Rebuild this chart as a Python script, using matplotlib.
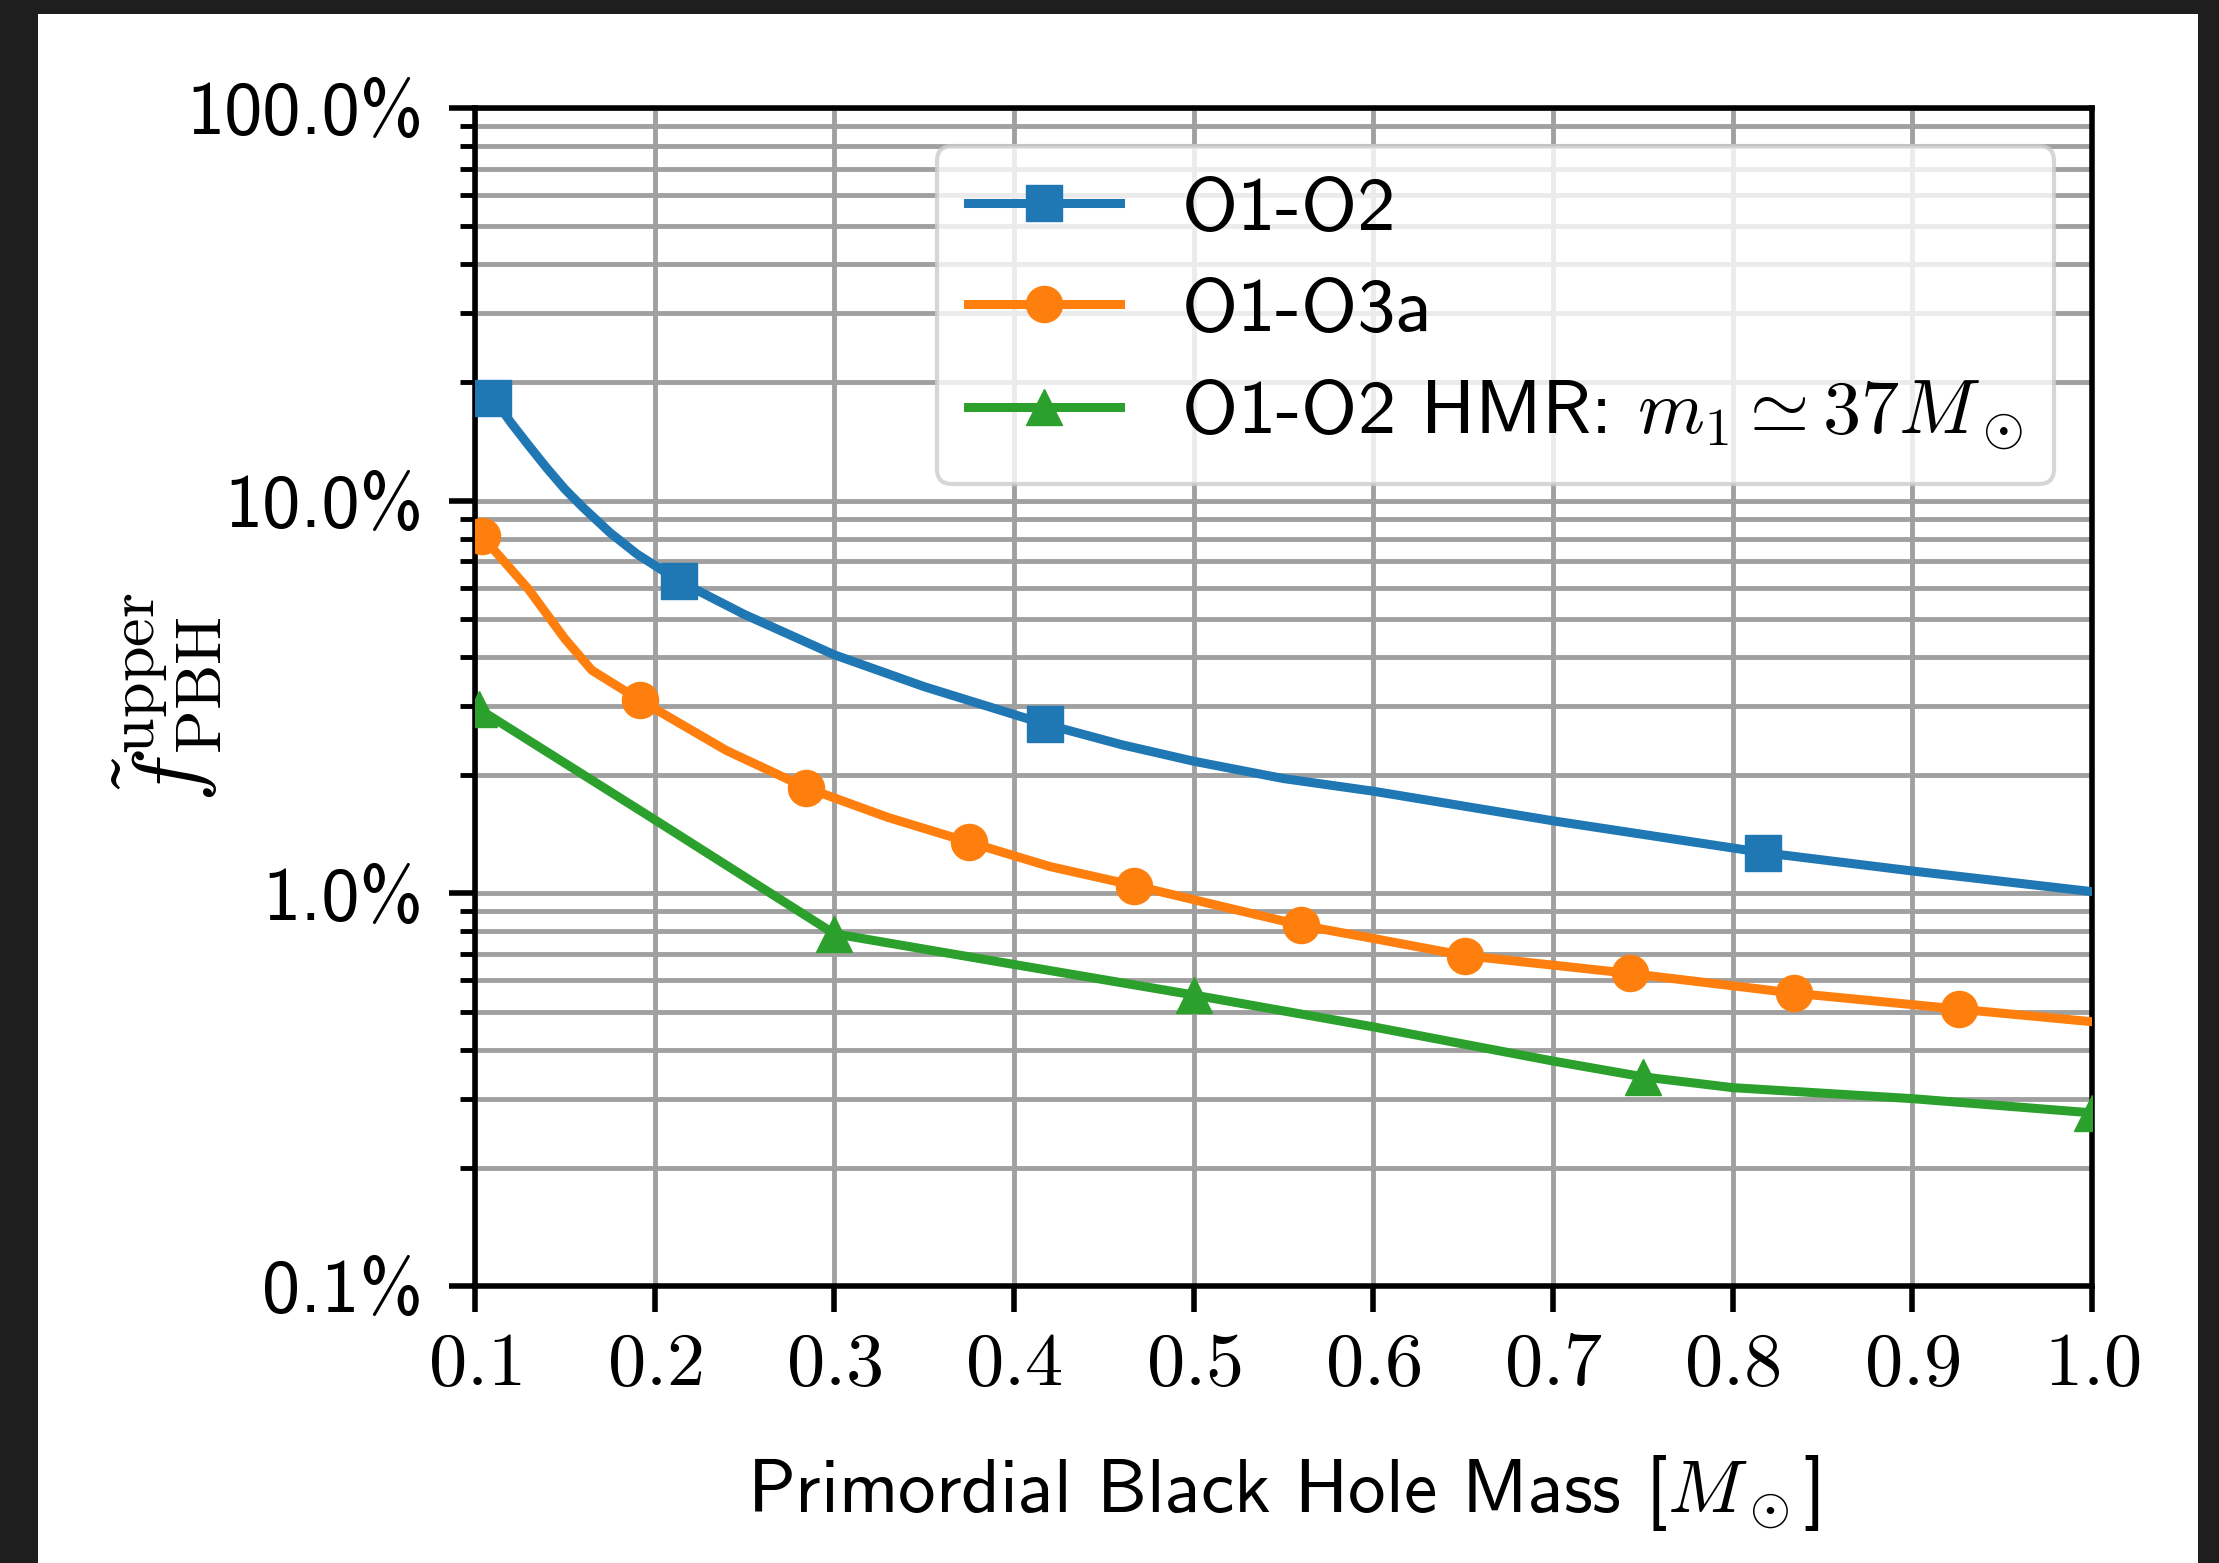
import numpy as np
import matplotlib
matplotlib.use("Agg")
import matplotlib.pyplot as plt
from matplotlib.ticker import FuncFormatter, LogLocator, NullFormatter, MultipleLocator
from matplotlib.patches import Rectangle

# data (mass in solar masses, f in percent)
mass_o1o2 = [0.110, 0.120, 0.130, 0.140, 0.150, 0.160, 0.175, 0.190, 0.2134, 0.25, 0.30, 0.35,
             0.417, 0.46, 0.50, 0.55, 0.60, 0.70, 0.817, 0.90, 1.00]
f_o1o2 = [18.3, 15.8, 13.8, 12.1, 10.7, 9.62, 8.30, 7.32, 6.25, 5.13, 4.05, 3.36,
          2.70, 2.39, 2.17, 1.96, 1.82, 1.53, 1.27, 1.14, 1.01]
marks_o1o2 = [0, 8, 12, 18]

mass_o3a = [0.104, 0.130, 0.150, 0.165, 0.192, 0.240, 0.284, 0.330, 0.375, 0.420, 0.467, 0.514,
            0.560, 0.605, 0.651, 0.743, 0.834, 0.926, 1.00]
f_o3a = [8.11, 5.93, 4.45, 3.70, 3.10, 2.31, 1.86, 1.56, 1.35, 1.17, 1.047, 0.93,
         0.829, 0.76, 0.694, 0.625, 0.557, 0.507, 0.471]
marks_o3a = [0, 4, 6, 8, 10, 12, 14, 15, 16, 17]

mass_hmr = [0.102, 0.200, 0.300, 0.400, 0.500, 0.600, 0.700, 0.750, 0.800, 0.900, 1.00]
f_hmr = [2.95, 1.54, 0.789, 0.659, 0.551, 0.457, 0.374, 0.341, 0.320, 0.300, 0.276]
marks_hmr = [0, 2, 4, 7, 10]

labels = ["O1-O2", "O1-O3a", r"O1-O2 HMR: $m_1 \simeq 37M_\odot$"]

plt.rcParams["font.family"] = ["cmss10", "DejaVu Sans"]
plt.rcParams["mathtext.fontset"] = "cm"
plt.rcParams["axes.unicode_minus"] = False
fs = 55

fig = plt.figure(figsize=(22.19, 15.63), dpi=100)
fig.patch.set_facecolor("#1e1e1e")
fig.add_artist(Rectangle((38 / 2219, 0), (2198 - 38) / 2219, 1 - 14 / 1563,
                         transform=fig.transFigure, facecolor="white", edgecolor="none", zorder=0))

ax = fig.add_axes([475 / 2219, 1 - 1286 / 1563, (2092 - 475) / 2219, (1286 - 108) / 1563])

lw, ms = 6.5, 26
ax.plot(mass_o1o2, f_o1o2, color="#1f77b4", lw=lw, marker="s", ms=ms, markevery=marks_o1o2, label=labels[0], zorder=3)
ax.plot(mass_o3a, f_o3a, color="#ff7f0e", lw=lw, marker="o", ms=ms, markevery=marks_o3a, label=labels[1], zorder=3)
ax.plot(mass_hmr, f_hmr, color="#2ca02c", lw=lw, marker="^", ms=ms, markevery=marks_hmr, label=labels[2], zorder=3)

ax.set_yscale("log")
ax.set_ylim(0.1, 100)
ax.set_xlim(0.1, 1.0)
ax.xaxis.set_major_locator(MultipleLocator(0.1))
ax.yaxis.set_major_locator(LogLocator(base=10))
ax.yaxis.set_minor_locator(LogLocator(base=10, subs=np.arange(2, 10)))
ax.yaxis.set_minor_formatter(NullFormatter())
ax.yaxis.set_major_formatter(FuncFormatter(lambda v, _: f"{v:.1f}%"))
ax.xaxis.set_major_formatter(FuncFormatter(lambda v, _: f"${v:.1f}$"))

ax.grid(True, which="major", axis="x", color="#a0a0a0", lw=3.5)
ax.grid(True, which="both", axis="y", color="#a0a0a0", lw=3.5)
ax.set_axisbelow(True)

for s in ax.spines.values():
    s.set_linewidth(4)
ax.tick_params(axis="both", which="major", length=19, width=4, labelsize=fs)
ax.tick_params(axis="y", which="minor", length=10.5, width=3.5)
ax.tick_params(axis="x", which="major", pad=14)
ax.tick_params(axis="y", which="major", pad=18)

ax.set_xlabel(r"Primordial Black Hole Mass [$M_\odot$]", fontsize=54, labelpad=38)
ax.set_ylabel(r"$\tilde{f}_{\rm PBH}^{\rm upper}$", fontsize=66)
ax.yaxis.set_label_coords(-0.155, 0.5)

leg = ax.legend(loc="upper right", fontsize=fs, framealpha=0.8, borderaxespad=0.5, labelspacing=0.42)
leg.get_frame().set_linewidth(3)

fig.savefig("out.png", dpi=100, facecolor=fig.get_facecolor())
